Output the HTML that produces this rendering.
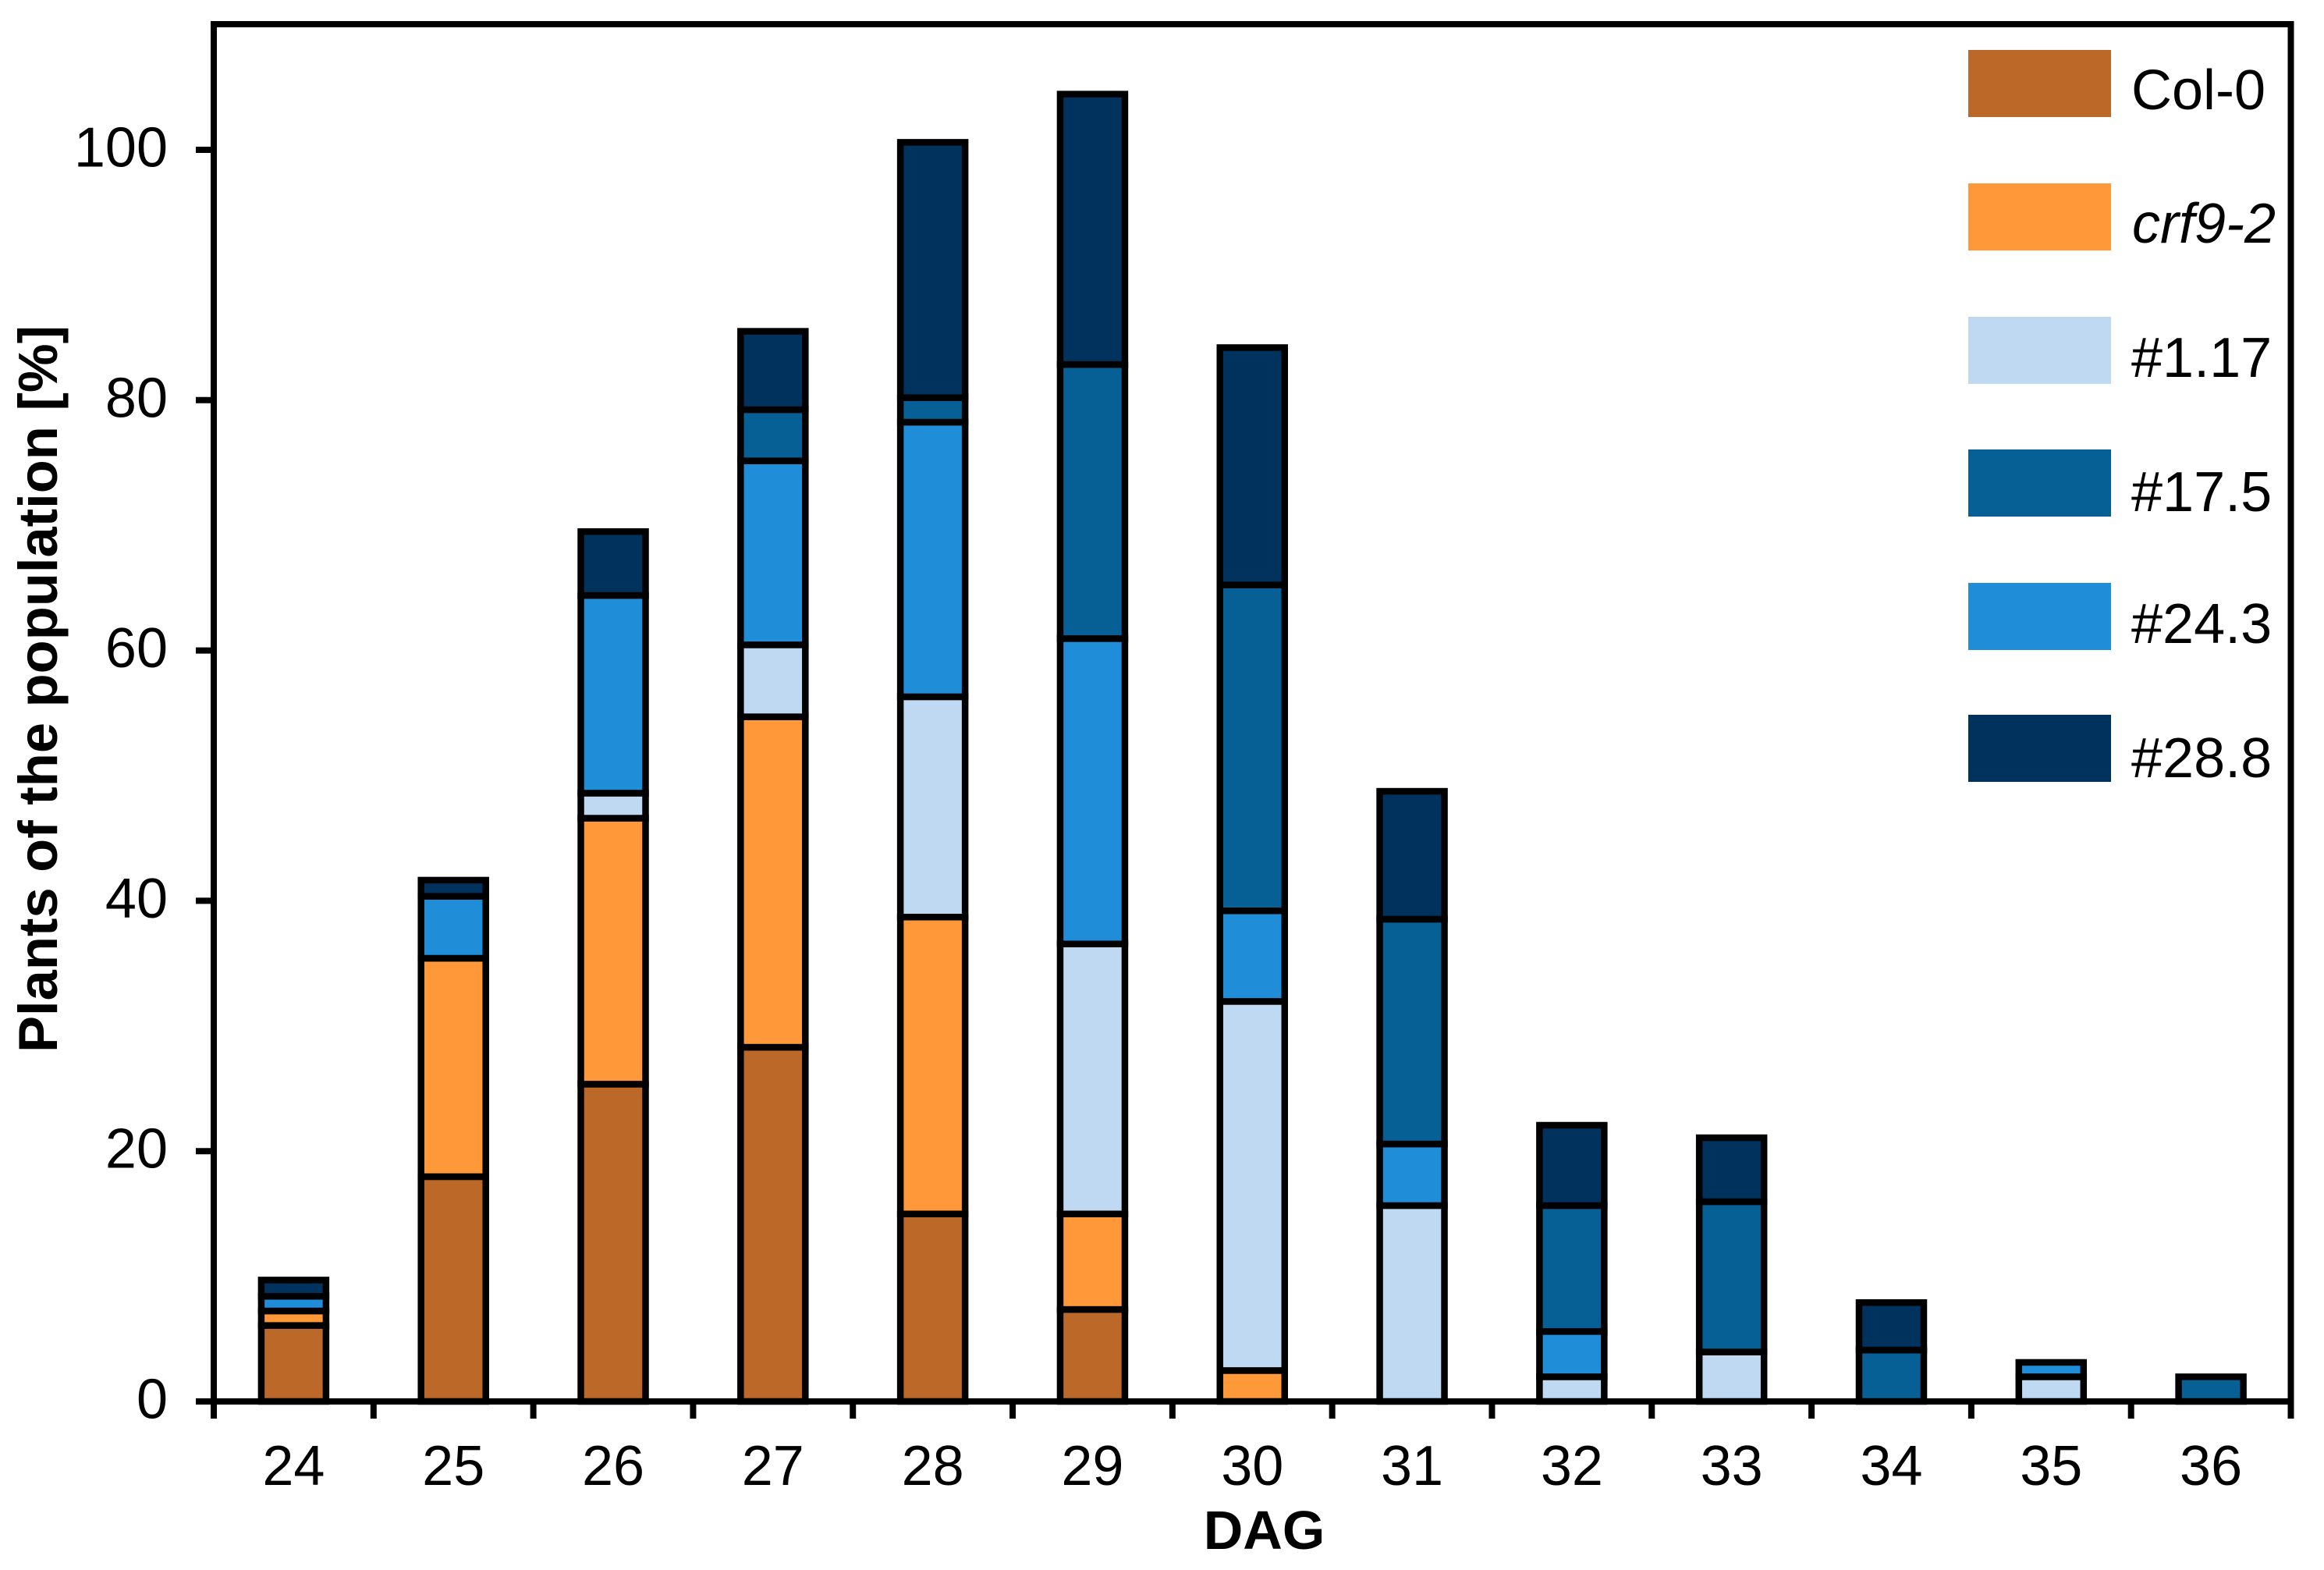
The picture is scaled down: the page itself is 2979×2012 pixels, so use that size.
<!DOCTYPE html>
<html lang="en">
<head>
<meta charset="utf-8">
<title>Plants of the population by DAG</title>
<style>
html,body{margin:0;padding:0;background:#fff;width:2979px;height:2012px;overflow:hidden}
svg{display:block}
text{font-family:"Liberation Sans",Arial,sans-serif;fill:#000}
</style>
</head>
<body>
<svg id="chart" xmlns="http://www.w3.org/2000/svg" width="2979" height="2012" viewBox="0 0 2979 2012">
  <rect x="0" y="0" width="2979" height="2012" fill="#ffffff"/>
  <g id="bars"></g>
  <g id="axes"></g>
  <text transform="translate(73,1349) rotate(-90)" font-size="70.5" font-weight="bold">Plants of the population [%]</text>
  <text x="1620.5" y="1985" font-size="70" font-weight="bold" text-anchor="middle">DAG</text>
  <g id="legend">
    <g>
      <rect x="2523" y="64" width="183" height="86" fill="#BB6829"/>
      <text x="2732" y="140" font-size="72">Col-0</text>
    </g>
    <g>
      <rect x="2523" y="235" width="183" height="86" fill="#FF9838"/>
      <text x="2733" y="311" font-size="72" font-style="italic">crf9-2</text>
    </g>
    <g>
      <rect x="2523" y="406" width="183" height="86" fill="#C0D9F2"/>
      <text x="2732" y="483" font-size="72">#1.17</text>
    </g>
    <g>
      <rect x="2523" y="576" width="183" height="86" fill="#066096"/>
      <text x="2732" y="655" font-size="72">#17.5</text>
    </g>
    <g>
      <rect x="2523" y="747" width="183" height="86" fill="#208DD9"/>
      <text x="2732" y="824" font-size="72">#24.3</text>
    </g>
    <g>
      <rect x="2523" y="916" width="183" height="86" fill="#00325E"/>
      <text x="2732" y="996" font-size="72">#28.8</text>
    </g>
  </g>
</svg>
<script>
var categories = ["24","25","26","27","28","29","30","31","32","33","34","35","36"];
var yTickValues = [0,20,40,60,80,100];
var seriesNames = ["col-0","crf9-2","1-17","24-3","17-5","28-8"];
var seriesColors = ["#BB6829","#FF9838","#C0D9F2","#208DD9","#066096","#00325E"];
var col0   = [6.07,17.96,25.35,28.3,14.98,7.35,0,0,0,0,0,0,0];
var crf92  = [1.16,17.45,21.25,26.4,23.72,7.63,2.47,0,0,0,0,0,0];
var l117   = [0,0,2.0,5.75,17.6,21.57,29.49,15.65,1.97,3.95,0,1.97,0];
var l243   = [1.17,4.95,15.8,14.7,21.94,24.4,7.24,4.92,3.62,0,0,1.15,0];
var l175   = [0,0,0,4.09,1.96,21.9,26.04,17.96,10.06,12.01,4.11,0,1.97];
var l288   = [1.3,1.29,5.1,6.26,20.4,21.6,18.96,10.22,6.42,5.11,3.79,0,0];
var seriesValues = [col0,crf92,l117,l243,l175,l288];

var NS = "http://www.w3.org/2000/svg";
var plotLeft = 274, plotRight = 2936.5, plotTop = 31, zeroY = 1796, unitPx = 16.04;
var barWidth = 83, barStroke = 8.5;

function xBand(i){ return plotLeft + (plotRight - plotLeft) * i / categories.length; }
function xCenter(i){ return xBand(i + 0.5); }
function yScale(v){ return zeroY - v * unitPx; }
function make(tag, attrs){
  var el = document.createElementNS(NS, tag);
  for (var k in attrs) el.setAttribute(k, attrs[k]);
  return el;
}

var barsG = document.getElementById("bars");
categories.forEach(function(cat, i){
  var g = make("g", {});
  
  
  var sum = 0;
  seriesValues.forEach(function(vals, s){
    var v = vals[i];
    if (!v) return;
    var y0 = yScale(sum), y1 = yScale(sum + v);
    var r = make("rect", {
      x: xCenter(i) - barWidth / 2, y: y1, width: barWidth, height: y0 - y1,
      fill: seriesColors[s], stroke: "#000", "stroke-width": barStroke
    });
    
    
    g.appendChild(r);
    sum += v;
  });
  barsG.appendChild(g);
});

var axesG = document.getElementById("axes");
function line(x1, y1, x2, y2, w){
  return make("line", {x1:x1, y1:y1, x2:x2, y2:y2, stroke:"#000", "stroke-width":w});
}
var leftAxis = line(plotLeft, 27, plotLeft, 1818, 8);


axesG.appendChild(leftAxis);
var rightBorder = line(plotRight, 27, plotRight, 1818, 8);


axesG.appendChild(rightBorder);
var topBorder = line(plotLeft - 4, plotTop, plotRight + 4, plotTop, 8);


axesG.appendChild(topBorder);
var xAxis = line(252, zeroY, plotRight + 4, zeroY, 8);


axesG.appendChild(xAxis);

yTickValues.forEach(function(v){
  var t = line(251, yScale(v), plotLeft, yScale(v), 8);
  
  
  axesG.appendChild(t);
  var lab = make("text", {x:215, y:yScale(v) + 21.5, "font-size":72, "text-anchor":"end"});
  
  
  lab.textContent = String(v);
  axesG.appendChild(lab);
});

for (var b = 1; b < categories.length; b++) {
  var tk = line(xBand(b), zeroY, xBand(b), 1818, 8);
  
  
  axesG.appendChild(tk);
}
categories.forEach(function(cat, i){
  var lab = make("text", {x:xCenter(i), y:1903, "font-size":72, "text-anchor":"middle"});
  
  
  lab.textContent = cat;
  axesG.appendChild(lab);
});
</script>
</body>
</html>
